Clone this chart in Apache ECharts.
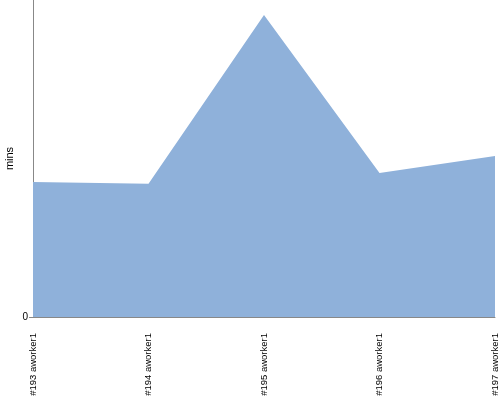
<!DOCTYPE html>
<html><head><meta charset="utf-8">
<script src="https://cdn.jsdelivr.net/npm/echarts@6/dist/echarts.min.js"></script>
<style>html,body{margin:0;padding:0;background:#fff}#c{width:500px;height:400px}</style>
</head><body><div id="c"></div>
<script>
var categories = ["#193 aworker1", "#194 aworker1", "#195 aworker1", "#196 aworker1", "#197 aworker1"];
var minsValues = [42.6, 42.0, 95.3, 45.4, 50.8];
var yAxisName = "mins";

var chart = echarts.init(document.getElementById('c'));
chart.setOption({
  animation: false,
  grid: { left: 33, right: 5, top: 0, bottom: 83, containLabel: false, outerBoundsMode: 'none' },
  xAxis: {
    type: 'category', data: categories, boundaryGap: false,
    axisLine: { lineStyle: { color: '#888' } },
    axisTick: { show: false },
    axisLabel: { rotate: 90, fontSize: 9.5, color: '#000', margin: 16, fontFamily: 'Liberation Sans', interval: 0 }
  },
  yAxis: {
    type: 'value', min: 0, max: 100, interval: 100,
    name: yAxisName, nameLocation: 'middle', nameGap: 18, nameMoveOverlap: false,
    nameTextStyle: { fontSize: 11, color: '#000', fontFamily: 'Liberation Sans' },
    axisLine: { show: true, lineStyle: { color: '#888' } },
    axisTick: { show: true, length: 4, lineStyle: { color: '#888' } },
    splitLine: { show: false },
    axisLabel: { showMaxLabel: false, fontSize: 10, color: '#000', margin: 5, fontFamily: 'Liberation Sans' }
  },
  series: [{
    type: 'line', data: minsValues, symbol: 'none',
    lineStyle: { width: 0 },
    areaStyle: { color: '#8fb1da', opacity: 1 }
  }]
});
</script></body></html>
